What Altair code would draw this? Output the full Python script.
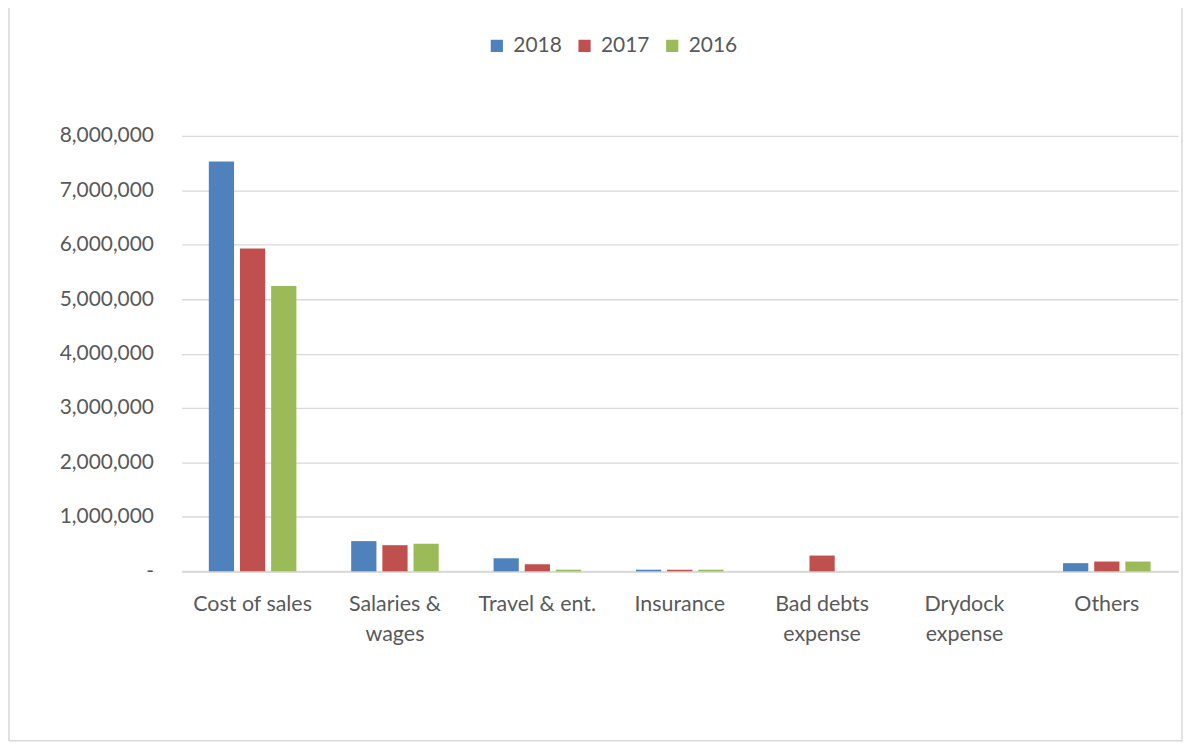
import altair as alt
import pandas as pd

categories = ["Cost of sales", "Salaries & wages", "Travel & ent.", "Insurance",
              "Bad debts expense", "Drydock expense", "Others"]
years = ["2018", "2017", "2016"]
v2018 = [7530000, 555000, 240000, 30000, 0, 0, 150000]
v2017 = [5930000, 480000, 130000, 30000, 290000, 0, 180000]
v2016 = [5240000, 505000, 30000, 30000, 0, 0, 180000]
colors = ["#4f81bd", "#c0504d", "#9bbb59"]
y_ticks = [0, 1000000, 2000000, 3000000, 4000000, 5000000, 6000000, 7000000, 8000000]

rows = []
for yr, vals in zip(years, [v2018, v2017, v2016]):
    for c, v in zip(categories, vals):
        rows.append({"Category": c, "Year": yr, "Value": v})
df = pd.DataFrame(rows)

FONT = "Lato"
GREY = "#595959"

label_expr = ("indexof(datum.label, ' expense') > 0 || indexof(datum.label, ' wages') > 0 ? "
              "[slice(datum.label, 0, lastindexof(datum.label, ' ')), "
              "slice(datum.label, lastindexof(datum.label, ' ') + 1)] : datum.label")

bars = alt.Chart(df).mark_bar().encode(
    x=alt.X("Category:N", sort=categories, title=None,
            scale=alt.Scale(paddingInner=0.385, paddingOuter=0.1925),
            axis=alt.Axis(labelAngle=0, labelExpr=label_expr, labelFont=FONT,
                          labelFontSize=21.5, labelColor=GREY, labelPadding=22,
                          labelLineHeight=30, ticks=False, domainColor="#d9d9d9",
                          domainWidth=2, grid=False)),
    xOffset=alt.XOffset("Year:N", sort=years, scale=alt.Scale(paddingInner=0.19)),
    y=alt.Y("Value:Q", title=None,
            scale=alt.Scale(domain=[0, 8000000], nice=False),
            axis=alt.Axis(values=y_ticks, labelFont=FONT, labelFontSize=21,
                          labelColor=GREY, labelPadding=28, ticks=False, domain=False,
                          gridColor="#d9d9d9", gridWidth=1.3,
                          labelExpr="datum.value == 0 ? '-' : format(datum.value, ',')")),
    color=alt.Color("Year:N", sort=years,
                    scale=alt.Scale(domain=years, range=colors),
                    legend=alt.Legend(title=None, orient="none", direction="horizontal",
                                      legendX=306, legendY=-101, symbolType="square",
                                      symbolSize=150, symbolStrokeWidth=0,
                                      labelFont=FONT, labelFontSize=21, labelColor=GREY,
                                      columnPadding=12, labelOffset=6)),
)

border = alt.Chart(pd.DataFrame({"a": [0]})).mark_rect(
    fill=None, stroke="#d9d9d9", strokeWidth=1.5
).encode(x=alt.value(-173), x2=alt.value(1004), y=alt.value(-129), y2=alt.value(607))

chart = alt.layer(border, bars).properties(
    width=1000, height=437,
    autosize=alt.AutoSizeParams(type="none"),
    padding={"left": 174, "top": 127, "right": 6, "bottom": 172},
).configure_view(stroke=None)

chart.save("out.html", embed_options={"renderer": "svg", "actions": False})
